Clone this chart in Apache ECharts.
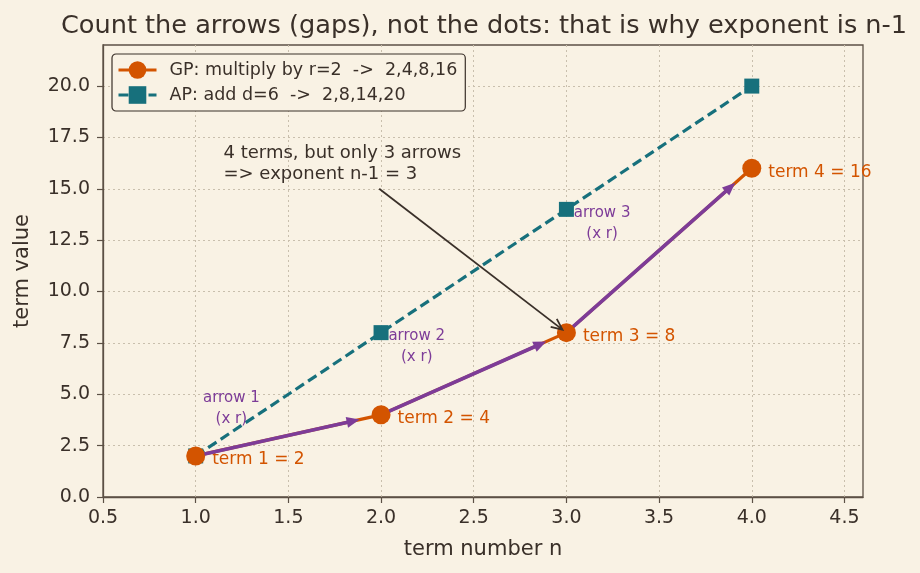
<!DOCTYPE html>
<html>
<head>
<meta charset="utf-8">
<script src="https://cdn.jsdelivr.net/npm/echarts@6/dist/echarts.min.js"></script>
<style>
html, body { margin: 0; padding: 0; background: #f9f2e4; }
#chart { width: 920px; height: 573px; }
</style>
</head>
<body>
<div id="chart"></div>
<script>
var termN = [1, 2, 3, 4]
var gpValues = [2, 4, 8, 16]
var apValues = [2, 8, 14, 20]
var xTicks = [0.5, 1.0, 1.5, 2.0, 2.5, 3.0, 3.5, 4.0, 4.5]
var yTicks = [0, 2.5, 5, 7.5, 10, 12.5, 15, 17.5, 20]
var gpName = 'GP: multiply by r=2  ->  2,4,8,16'
var apName = 'AP: add d=6  ->  2,8,14,20'
var noteLines = ['4 terms, but only 3 arrows', '=> exponent n-1 = 3']

var ink = '#3a3029'
var axisInk = '#5c5045'
var orange = '#d35400'
var teal = '#17707c'
var purple = '#7d3c98'
var font = 'DejaVu Sans'

function _initChart () {
    var myChart = echarts.init(document.getElementById('chart'))

    var gpData = termN.map(function (n, i) { return [n, gpValues[i]] })
    var apData = termN.map(function (n, i) { return [n, apValues[i]] })
    // one arrow per gap between consecutive terms
    var gaps = []
    for (var i = 0; i < termN.length - 1; i++) {
        gaps.push([termN[i], gpValues[i], termN[i + 1], gpValues[i + 1], i + 1])
    }
    // note text anchor, arrow start, arrow target (term 3)
    var note = [[1.15, 15.2, 1.99, 15.0, termN[2], gpValues[2]]]

    function renderGap (params, api) {
        var a = api.coord([api.value(0), api.value(1)])
        var b = api.coord([api.value(2), api.value(3)])
        var dx = b[0] - a[0], dy = b[1] - a[1]
        var len = Math.sqrt(dx * dx + dy * dy)
        var ux = dx / len, uy = dy / len
        var s = [a[0] + ux * 9, a[1] + uy * 9]
        var tip = [b[0] - ux * 22, b[1] - uy * 22]
        var headLen = 13, headW = 5.5
        var base = [tip[0] - ux * headLen, tip[1] - uy * headLen]
        var mid = [(a[0] + b[0]) / 2, (a[1] + b[1]) / 2]
        return {
            type: 'group',
            children: [
                {
                    type: 'line',
                    shape: { x1: s[0], y1: s[1], x2: base[0] + ux * 2, y2: base[1] + uy * 2 },
                    style: { stroke: purple, lineWidth: 3.6 }
                },
                {
                    type: 'polygon',
                    shape: { points: [tip, [base[0] - uy * headW, base[1] + ux * headW], [base[0] + uy * headW, base[1] - ux * headW]] },
                    style: { fill: purple }
                },
                {
                    type: 'text',
                    x: mid[0] - 57,
                    y: mid[1] - 27,
                    style: {
                        text: 'arrow ' + api.value(4) + '\n(x r)',
                        fill: purple,
                        fontSize: 15,
                        fontFamily: font,
                        align: 'center',
                        verticalAlign: 'middle',
                        lineHeight: 21
                    }
                }
            ]
        }
    }

    function renderNote (params, api) {
        var t = api.coord([api.value(0), api.value(1)])
        var a = api.coord([api.value(2), api.value(3)])
        var b = api.coord([api.value(4), api.value(5)])
        var dx = b[0] - a[0], dy = b[1] - a[1]
        var len = Math.sqrt(dx * dx + dy * dy)
        var ux = dx / len, uy = dy / len
        var tip = [b[0] - ux * 5, b[1] - uy * 5]
        var hl = 11, hw = 5
        var base = [tip[0] - ux * hl, tip[1] - uy * hl]
        return {
            type: 'group',
            children: [
                {
                    type: 'line',
                    shape: { x1: a[0], y1: a[1], x2: tip[0], y2: tip[1] },
                    style: { stroke: ink, lineWidth: 1.8 }
                },
                {
                    type: 'polyline',
                    shape: { points: [[base[0] - uy * hw, base[1] + ux * hw], tip, [base[0] + uy * hw, base[1] - ux * hw]] },
                    style: { stroke: ink, lineWidth: 1.8, fill: null }
                },
                {
                    type: 'text',
                    x: t[0],
                    y: t[1],
                    style: {
                        text: noteLines.join('\n'),
                        fill: ink,
                        fontSize: 18,
                        fontFamily: font,
                        align: 'left',
                        verticalAlign: 'bottom',
                        lineHeight: 21
                    }
                }
            ]
        }
    }

    var option = {
        backgroundColor: '#f9f2e4',
        textStyle: { fontFamily: font },
        title: {
            text: 'Count the arrows (gaps), not the dots: that is why exponent is n-1',
            left: 479,
            textAlign: 'center',
            top: 8,
            textStyle: { color: ink, fontSize: 25.6, fontWeight: 'normal', fontFamily: font }
        },
        legend: {
            orient: 'vertical',
            left: 112,
            top: 54,
            padding: [7, 8, 7, 5],
            itemWidth: 38,
            itemHeight: 22,
            itemGap: 7,
            lineStyle: { width: 3 },
            backgroundColor: '#f9f2e4',
            borderColor: ink,
            borderWidth: 1.2,
            borderRadius: 4,
            textStyle: { color: ink, fontSize: 17.5, fontFamily: font, padding: [0, 0, 0, 8] },
            data: [gpName, apName]
        },
        grid: {
            left: 103,
            right: 57,
            top: 45,
            bottom: 76,
            show: true,
            borderColor: axisInk,
            borderWidth: 1.3,
            backgroundColor: 'transparent'
        },
        xAxis: {
            type: 'value',
            min: 0.5,
            max: 4.6,
            interval: 0.5,
            name: 'term number n',
            nameLocation: 'middle',
            nameGap: 42,
            nameTextStyle: { color: ink, fontSize: 21, fontFamily: font },
            axisLine: { lineStyle: { color: axisInk, width: 1.3 } },
            axisTick: { show: true, length: 6, customValues: xTicks, lineStyle: { color: axisInk, width: 1.2 } },
            axisLabel: {
                customValues: xTicks,
                margin: 12,
                color: ink,
                fontSize: 19,
                fontFamily: font,
                formatter: function (v) { return v.toFixed(1) }
            },
            splitLine: { show: true, lineStyle: { color: '#c9bfad', type: [2, 3], width: 1 } }
        },
        yAxis: {
            type: 'value',
            min: 0,
            max: 22,
            interval: 2.5,
            name: 'term value',
            nameLocation: 'middle',
            nameGap: 70,
            nameTextStyle: { color: ink, fontSize: 21, fontFamily: font },
            axisLine: { show: true, lineStyle: { color: axisInk, width: 1.3 } },
            axisTick: { show: true, length: 6, customValues: yTicks, lineStyle: { color: axisInk, width: 1.2 } },
            axisLabel: {
                customValues: yTicks,
                margin: 13,
                color: ink,
                fontSize: 19,
                fontFamily: font,
                formatter: function (v) { return v.toFixed(1) }
            },
            splitLine: { show: true, lineStyle: { color: '#c9bfad', type: [2, 3], width: 1 } }
        },
        series: [
            {
                name: apName,
                type: 'line',
                data: apData,
                symbol: 'rect',
                symbolSize: 15,
                z: 2,
                itemStyle: { color: teal },
                lineStyle: { color: teal, width: 3.2, type: [10, 5] },
                emphasis: { disabled: true },
                animation: false
            },
            {
                name: gpName,
                type: 'line',
                data: gpData,
                symbol: 'circle',
                symbolSize: 19,
                z: 2,
                itemStyle: { color: orange },
                lineStyle: { color: orange, width: 3.2 },
                label: {
                    show: true,
                    position: 'right',
                    distance: 7,
                    offset: [0, 4],
                    color: orange,
                    fontSize: 17,
                    fontFamily: font,
                    formatter: function (p) { return 'term ' + p.value[0] + ' = ' + p.value[1] }
                },
                emphasis: { disabled: true },
                animation: false
            },
            {
                type: 'custom',
                renderItem: renderGap,
                data: gaps,
                z: 3,
                silent: true,
                animation: false
            },
            {
                type: 'custom',
                renderItem: renderNote,
                data: note,
                z: 4,
                silent: true,
                animation: false
            }
        ]
    }
    myChart.setOption(option)
    window.addEventListener('resize', function () { myChart.resize() })
}

_initChart()
</script>
</body>
</html>
